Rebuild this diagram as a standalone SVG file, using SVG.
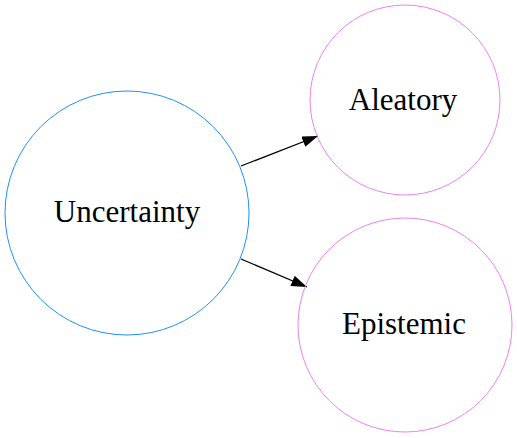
<svg xmlns="http://www.w3.org/2000/svg" width="517" height="438" viewBox="0 0 517 438">
<style>
text{font-family:"Liberation Serif","Times New Roman",serif;font-size:31px;fill:#000;text-anchor:middle}
.n{fill:none;stroke-width:1}
.e{stroke:#000;stroke-width:1.3;fill:none}
</style>
<defs>
<marker id="ah" viewBox="0 0 10 7" refX="10" refY="3.5" markerWidth="10" markerHeight="7" markerUnits="userSpaceOnUse" orient="auto">
<path d="M0,0 L10,3.5 L0,7 z" fill="#000"/>
</marker>
<marker id="ah2" viewBox="0 0 10 7" refX="10" refY="3.5" markerWidth="16" markerHeight="11" markerUnits="userSpaceOnUse" orient="auto">
<path d="M0,0 L10,3.5 L0,7 z" fill="#000"/>
</marker>
</defs>
<g id="edges">
<path class="e" d="M241,166 L318,136" marker-end="url(#ah2)"/>
<path class="e" d="M241,259 L307,287" marker-end="url(#ah2)"/>
</g>
<g id="uncertainty">
<circle class="n" cx="127" cy="213" r="122" stroke="#1e90ff"/>
<text x="127" y="222">Uncertainty</text>
</g>
<g id="aleatory">
<circle class="n" cx="405" cy="100" r="95" stroke="#ee82ee"/>
<text x="403" y="110">Aleatory</text>
</g>
<g id="epistemic">
<circle class="n" cx="405" cy="325" r="107" stroke="#ee82ee"/>
<text x="404" y="334">Epistemic</text>
</g>
</svg>
